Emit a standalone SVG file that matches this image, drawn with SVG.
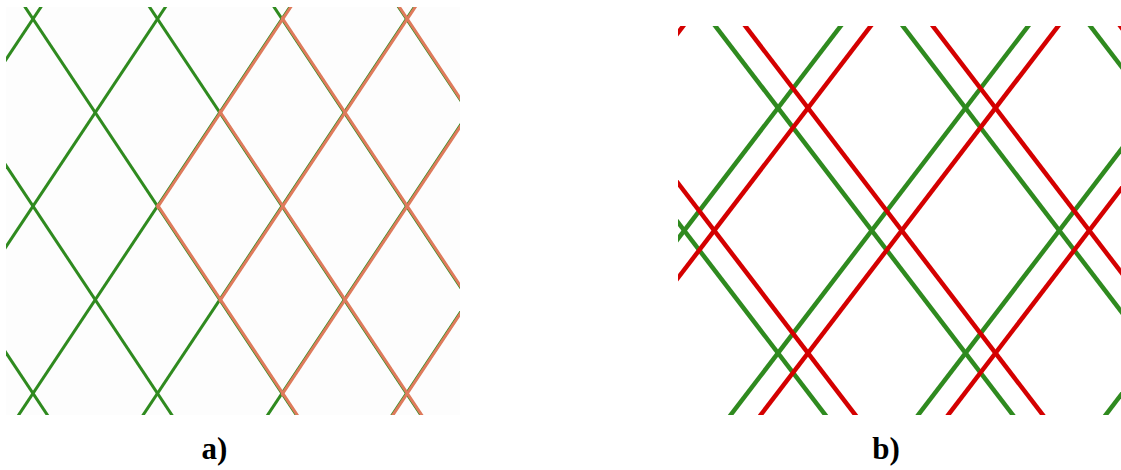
<svg xmlns="http://www.w3.org/2000/svg" xmlns:xlink="http://www.w3.org/1999/xlink" width="1121" height="470" viewBox="0 0 1121 470">
  <style>
    .bg { fill: #ffffff; }
    .panelA { fill: #fdfdfd; }
    .latA line { stroke-width: 3; stroke-linecap: butt; }
    .latB line { stroke-width: 4.5; stroke-linecap: butt; }
    .green { stroke: #2f8a1f; }
    .red { stroke: #d40000; }
    .mix { stroke: #df7a5c; }
    .label { font-family: "Liberation Serif", "Times New Roman", serif; font-weight: bold; font-size: 31px; fill: #000000; text-anchor: middle; }
  </style>
  <defs>
    <clipPath id="clipA"><rect x="6" y="7" width="454" height="408"/></clipPath>
    <clipPath id="clipARed"><polygon points="155.5,206.2 292.6,0 470,0 470,420 297.7,420"/></clipPath>
    <clipPath id="clipB"><rect x="678" y="26" width="443" height="389"/></clipPath>
    <g id="latticeA" class="latA">
      <line x1="-228.6" y1="0" x2="50.7" y2="420"/>
      <line x1="-104.1" y1="0" x2="175.2" y2="420"/>
      <line x1="20.4" y1="0" x2="299.7" y2="420"/>
      <line x1="144.9" y1="0" x2="424.2" y2="420"/>
      <line x1="269.4" y1="0" x2="548.7" y2="420"/>
      <line x1="393.9" y1="0" x2="673.2" y2="420"/>
      <line x1="45.6" y1="0" x2="-233.7" y2="420"/>
      <line x1="170.1" y1="0" x2="-109.2" y2="420"/>
      <line x1="294.6" y1="0" x2="15.3" y2="420"/>
      <line x1="419.1" y1="0" x2="139.8" y2="420"/>
      <line x1="543.6" y1="0" x2="264.3" y2="420"/>
      <line x1="668.1" y1="0" x2="388.8" y2="420"/>
    </g>
    <g id="latticeB" class="latB">
      <line x1="523.2" y1="20" x2="829.2" y2="420"/>
      <line x1="710.7" y1="20" x2="1016.7" y2="420"/>
      <line x1="898.2" y1="20" x2="1204.2" y2="420"/>
      <line x1="1085.7" y1="20" x2="1391.7" y2="420"/>
      <line x1="657.8" y1="20" x2="351.8" y2="420"/>
      <line x1="845.3" y1="20" x2="539.3" y2="420"/>
      <line x1="1032.8" y1="20" x2="726.8" y2="420"/>
      <line x1="1220.3" y1="20" x2="914.3" y2="420"/>
      <line x1="1407.8" y1="20" x2="1101.8" y2="420"/>
    </g>
  </defs>

  <rect class="bg" x="0" y="0" width="1121" height="470"/>

  <g id="panel-a">
    <rect class="panelA" x="6" y="7" width="454" height="408"/>
    <g clip-path="url(#clipA)">
      <use xlink:href="#latticeA" href="#latticeA" class="green"/>
      <g clip-path="url(#clipARed)">
        <use xlink:href="#latticeA" href="#latticeA" class="mix" transform="translate(0.8,0)"/>
      </g>
    </g>
    <text class="label" x="214.5" y="459">a)</text>
  </g>

  <g id="panel-b">
    <g clip-path="url(#clipB)">
      <use xlink:href="#latticeB" href="#latticeB" class="green"/>
      <use xlink:href="#latticeB" href="#latticeB" class="red" transform="translate(30,0)"/>
    </g>
    <text class="label" x="886" y="459">b)</text>
  </g>
</svg>
